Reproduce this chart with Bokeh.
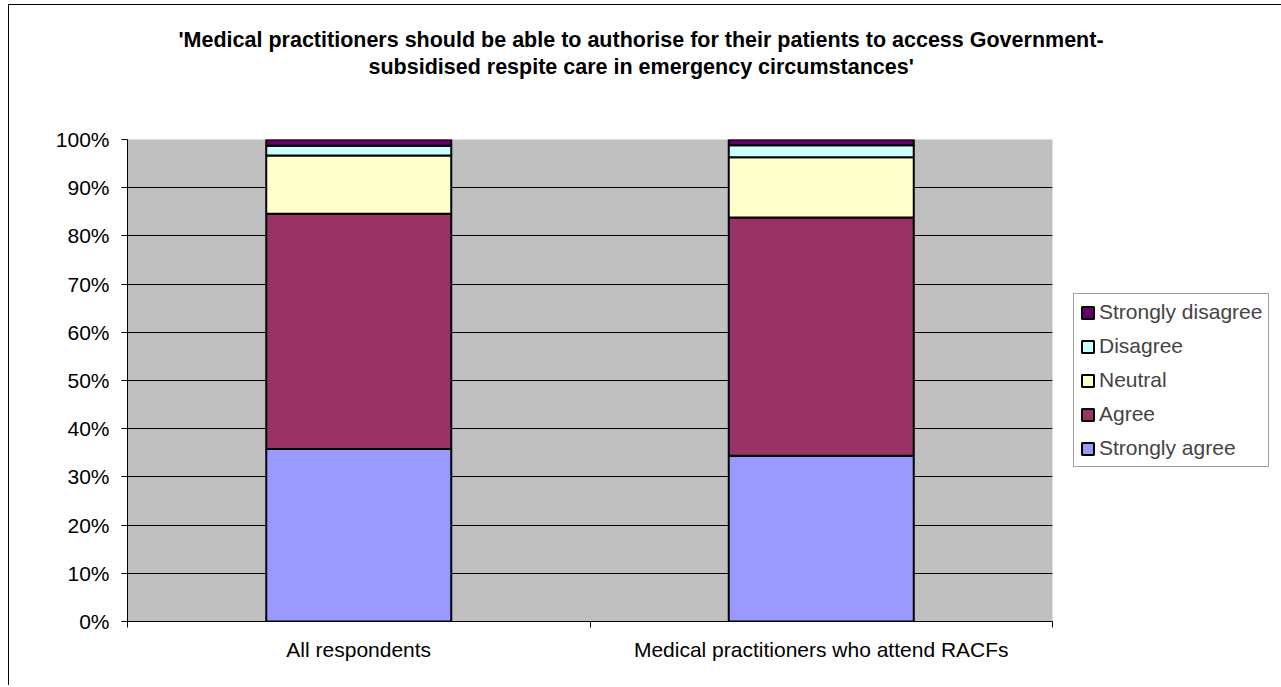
from bokeh.plotting import figure
from bokeh.models import (ColumnDataSource, FixedTicker, NumeralTickFormatter,
                          Legend, LegendItem, Title, Range1d)
from bokeh.embed import file_html
from bokeh.resources import INLINE

# Survey responses (share of respondents) per group
groups = ["All respondents", "Medical practitioners who attend RACFs"]
strongly_agree = [0.358, 0.344]
agree = [0.488, 0.494]
neutral = [0.121, 0.125]
disagree = [0.020, 0.025]
strongly_disagree = [0.013, 0.012]

series = ["Strongly agree", "Agree", "Neutral", "Disagree", "Strongly disagree"]
colors = ["#9999FF", "#993366", "#FFFFCC", "#CCFFFF", "#660066"]
y_ticks = [i / 10 for i in range(11)]

title_lines = [
    "'Medical practitioners should be able to authorise for their patients to access Government-",
    "subsidised respite care in emergency circumstances'",
]

FONT = "Liberation Sans"
LABEL_SIZE = "21px"

xpos = [i + 0.5 for i in range(len(groups))]
source = ColumnDataSource(dict(
    x=xpos,
    **{"Strongly agree": strongly_agree, "Agree": agree, "Neutral": neutral,
       "Disagree": disagree, "Strongly disagree": strongly_disagree},
))

p = figure(frame_width=925, frame_height=482, output_backend="svg", toolbar_location=None,
           x_range=Range1d(0, len(groups)), y_range=Range1d(0, 1),
           min_border_left=118, min_border_right=227, min_border_top=134,
           min_border_bottom=64)
p.margin = (4, 0, 0, 8)
p.styles = {"border-left": "1px solid black", "border-top": "1px solid black"}

p.background_fill_color = "#C0C0C0"
p.border_fill_color = "white"
p.outline_line_color = None

renderers = p.vbar_stack(series, x="x", width=0.4, source=source,
                         fill_color=colors, line_color="black", line_width=2)

# y axis: percentages every 10%
p.yaxis.ticker = FixedTicker(ticks=y_ticks, minor_ticks=[])
p.yaxis.formatter = NumeralTickFormatter(format="0%")
p.yaxis.major_tick_in = 0
p.yaxis.major_tick_out = 6
p.yaxis.major_label_standoff = 12
p.yaxis.axis_line_color = "black"
p.yaxis.major_label_text_font = FONT
p.yaxis.major_label_text_font_size = LABEL_SIZE
p.yaxis.major_label_text_color = "black"

# x axis: labels at category centres, tick marks between categories
p.xaxis.ticker = FixedTicker(ticks=xpos, minor_ticks=[0, 1, 2])
p.xaxis.major_label_overrides = {x: g for x, g in zip(xpos, groups)}
p.xaxis.major_tick_in = 0
p.xaxis.major_tick_out = 0
p.xaxis.minor_tick_in = 0
p.xaxis.minor_tick_out = 6
p.xaxis.minor_tick_line_color = "black"
p.xaxis.major_label_standoff = 10
p.xaxis.axis_line_color = "black"
p.xaxis.major_label_text_font = FONT
p.xaxis.major_label_text_font_size = LABEL_SIZE
p.xaxis.major_label_text_color = "black"

p.xgrid.grid_line_color = None
p.ygrid.ticker = FixedTicker(ticks=y_ticks)
p.ygrid.grid_line_color = "black"
p.ygrid.grid_line_width = 1

# legend, top entry is the top of the stack
items = [LegendItem(label=s, renderers=[r]) for s, r in zip(series, renderers)][::-1]
legend = Legend(items=items, location="center_left")
legend.margin = 21
legend.padding = 6
legend.spacing = 10
legend.glyph_width = 15
legend.glyph_height = 15
legend.label_standoff = 4
legend.label_text_font = FONT
legend.label_text_font_size = LABEL_SIZE
legend.label_height = 20
legend.border_line_color = "#444444"
legend.border_line_width = 1
legend.background_fill_color = "white"
legend.background_fill_alpha = 1
p.add_layout(legend, "right")

# two-line bold title above an empty spacer row
spacer = Title(text=" ", text_font=FONT, text_font_size="19px", standoff=37)
p.add_layout(spacer, "above")
for line, gap, shift in zip(reversed(title_lines), [2, 0], [241, 51]):
    t = Title(text=line, align="left", offset=shift, text_font=FONT,
              text_font_size="21.5px", text_font_style="bold", text_color="black",
              standoff=gap)
    p.add_layout(t, "above")

open("out.html", "w").write(file_html(p, INLINE))
